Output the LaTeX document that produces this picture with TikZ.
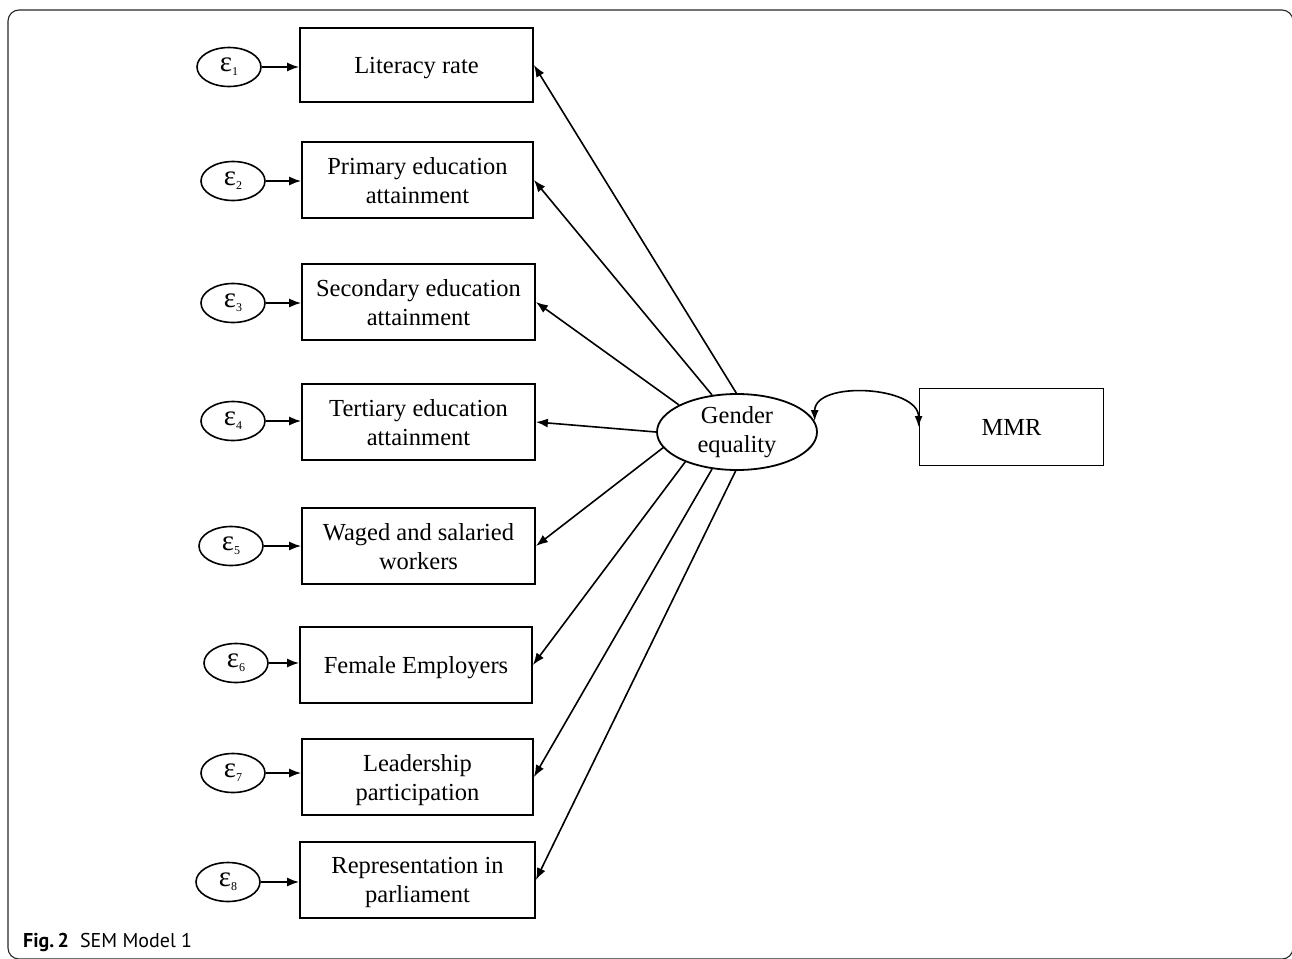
\documentclass[tikz,border=0pt]{standalone}
\usepackage{fontspec}
\setmainfont{Liberation Serif}
\newfontfamily\capfont{PT Sans}
\usetikzlibrary{arrows.meta,shapes.geometric}
\newcommand{\eps}[1]{{\fontsize{29}{29}\selectfont ε}\kern0.3pt\raisebox{-4pt}{\fontsize{12}{12}\selectfont #1}}
\begin{document}
\begin{tikzpicture}[x=1pt,y=-1pt,
  box/.style={draw,line width=1.8pt,inner sep=0pt,align=center,font=\fontsize{24.5}{29}\selectfont,text depth=0pt},
  err/.style={draw,ellipse,line width=1.6pt,inner sep=0pt,minimum width=64pt,minimum height=39pt,font=\fontsize{25}{25}\selectfont},
  lat/.style={draw,ellipse,line width=1.8pt,inner sep=0pt,minimum width=160pt,minimum height=76pt,align=center,font=\fontsize{24.5}{29}\selectfont},
  arr/.style={line width=1.6pt,-{Latex[length=12pt,width=9pt]}},
  darr/.style={line width=1.6pt,{Latex[length=11pt,width=8pt]}-{Latex[length=11pt,width=8pt]}}]
\useasboundingbox (0,0) rectangle (1292,958);
\draw[line width=1.1pt,rounded corners=11pt,black!85] (8,10) rectangle (1293,959);
% observed indicators
\node[box,minimum width=233pt,minimum height=74pt] (lit) at (416.5,65) {Literacy rate};
\node[box,minimum width=231pt,minimum height=76pt] (prim) at (417.5,180) {Primary education\\attainment};
\node[box,minimum width=233pt,minimum height=76pt] (sec) at (418.5,302) {Secondary education\\attainment};
\node[box,minimum width=233pt,minimum height=76pt] (ter) at (418.5,422) {Tertiary education\\attainment};
\node[box,minimum width=233pt,minimum height=76pt] (wag) at (418.5,546) {Waged and salaried\\workers};
\node[box,minimum width=232pt,minimum height=76pt] (fem) at (416,665) {Female Employers};
\node[box,minimum width=231pt,minimum height=76pt] (lead) at (417.5,777) {Leadership\\participation};
\node[box,minimum width=235pt,minimum height=76pt] (rep) at (417.5,880) {Representation in\\parliament};
% errors
\node[err] (e1) at (229,67) {\eps{1}};
\node[err] (e2) at (233,181) {\eps{2}};
\node[err] (e3) at (233,303) {\eps{3}};
\node[err] (e4) at (233,421) {\eps{4}};
\node[err] (e5) at (231,546) {\eps{5}};
\node[err] (e6) at (236,663) {\eps{6}};
\node[err] (e7) at (233,773) {\eps{7}};
\node[err] (e8) at (228,882) {\eps{8}};
\foreach \e/\b in {e1/lit,e2/prim,e3/sec,e4/ter,e5/wag,e6/fem,e7/lead,e8/rep}
  \draw[arr] (\e.east) -- (\e.east -| \b.west);
% latent
\node[lat] (ge) at (737,432) {Gender\\equality};
\node[box,minimum width=184pt,minimum height=77pt] (mmr) at (1011.5,427) {MMR};
\draw[arr] (ge.91) -- (lit.east);
\draw[arr] (ge.124) -- (prim.east);
\draw[arr] (ge.155) -- (sec.east);
\draw[arr] (ge.180) -- (ter.east);
\draw[arr] (ge.192) -- (wag.east);
\draw[arr] (ge.210) -- (fem.east);
\draw[arr] (ge.236) -- (lead.east);
\draw[arr] (ge.268) -- (rep.east);
\draw[darr] (ge.8) .. controls +(0,-41) and +(0,-41) .. (mmr.west);
% caption
\node[anchor=base west,inner sep=0pt,font=\capfont\fontsize{20}{24}\selectfont] (cap) at (23,947) {\textbf{Fig.\,2}\hspace{0.55em}SEM Model 1};
\end{tikzpicture}
\end{document}
